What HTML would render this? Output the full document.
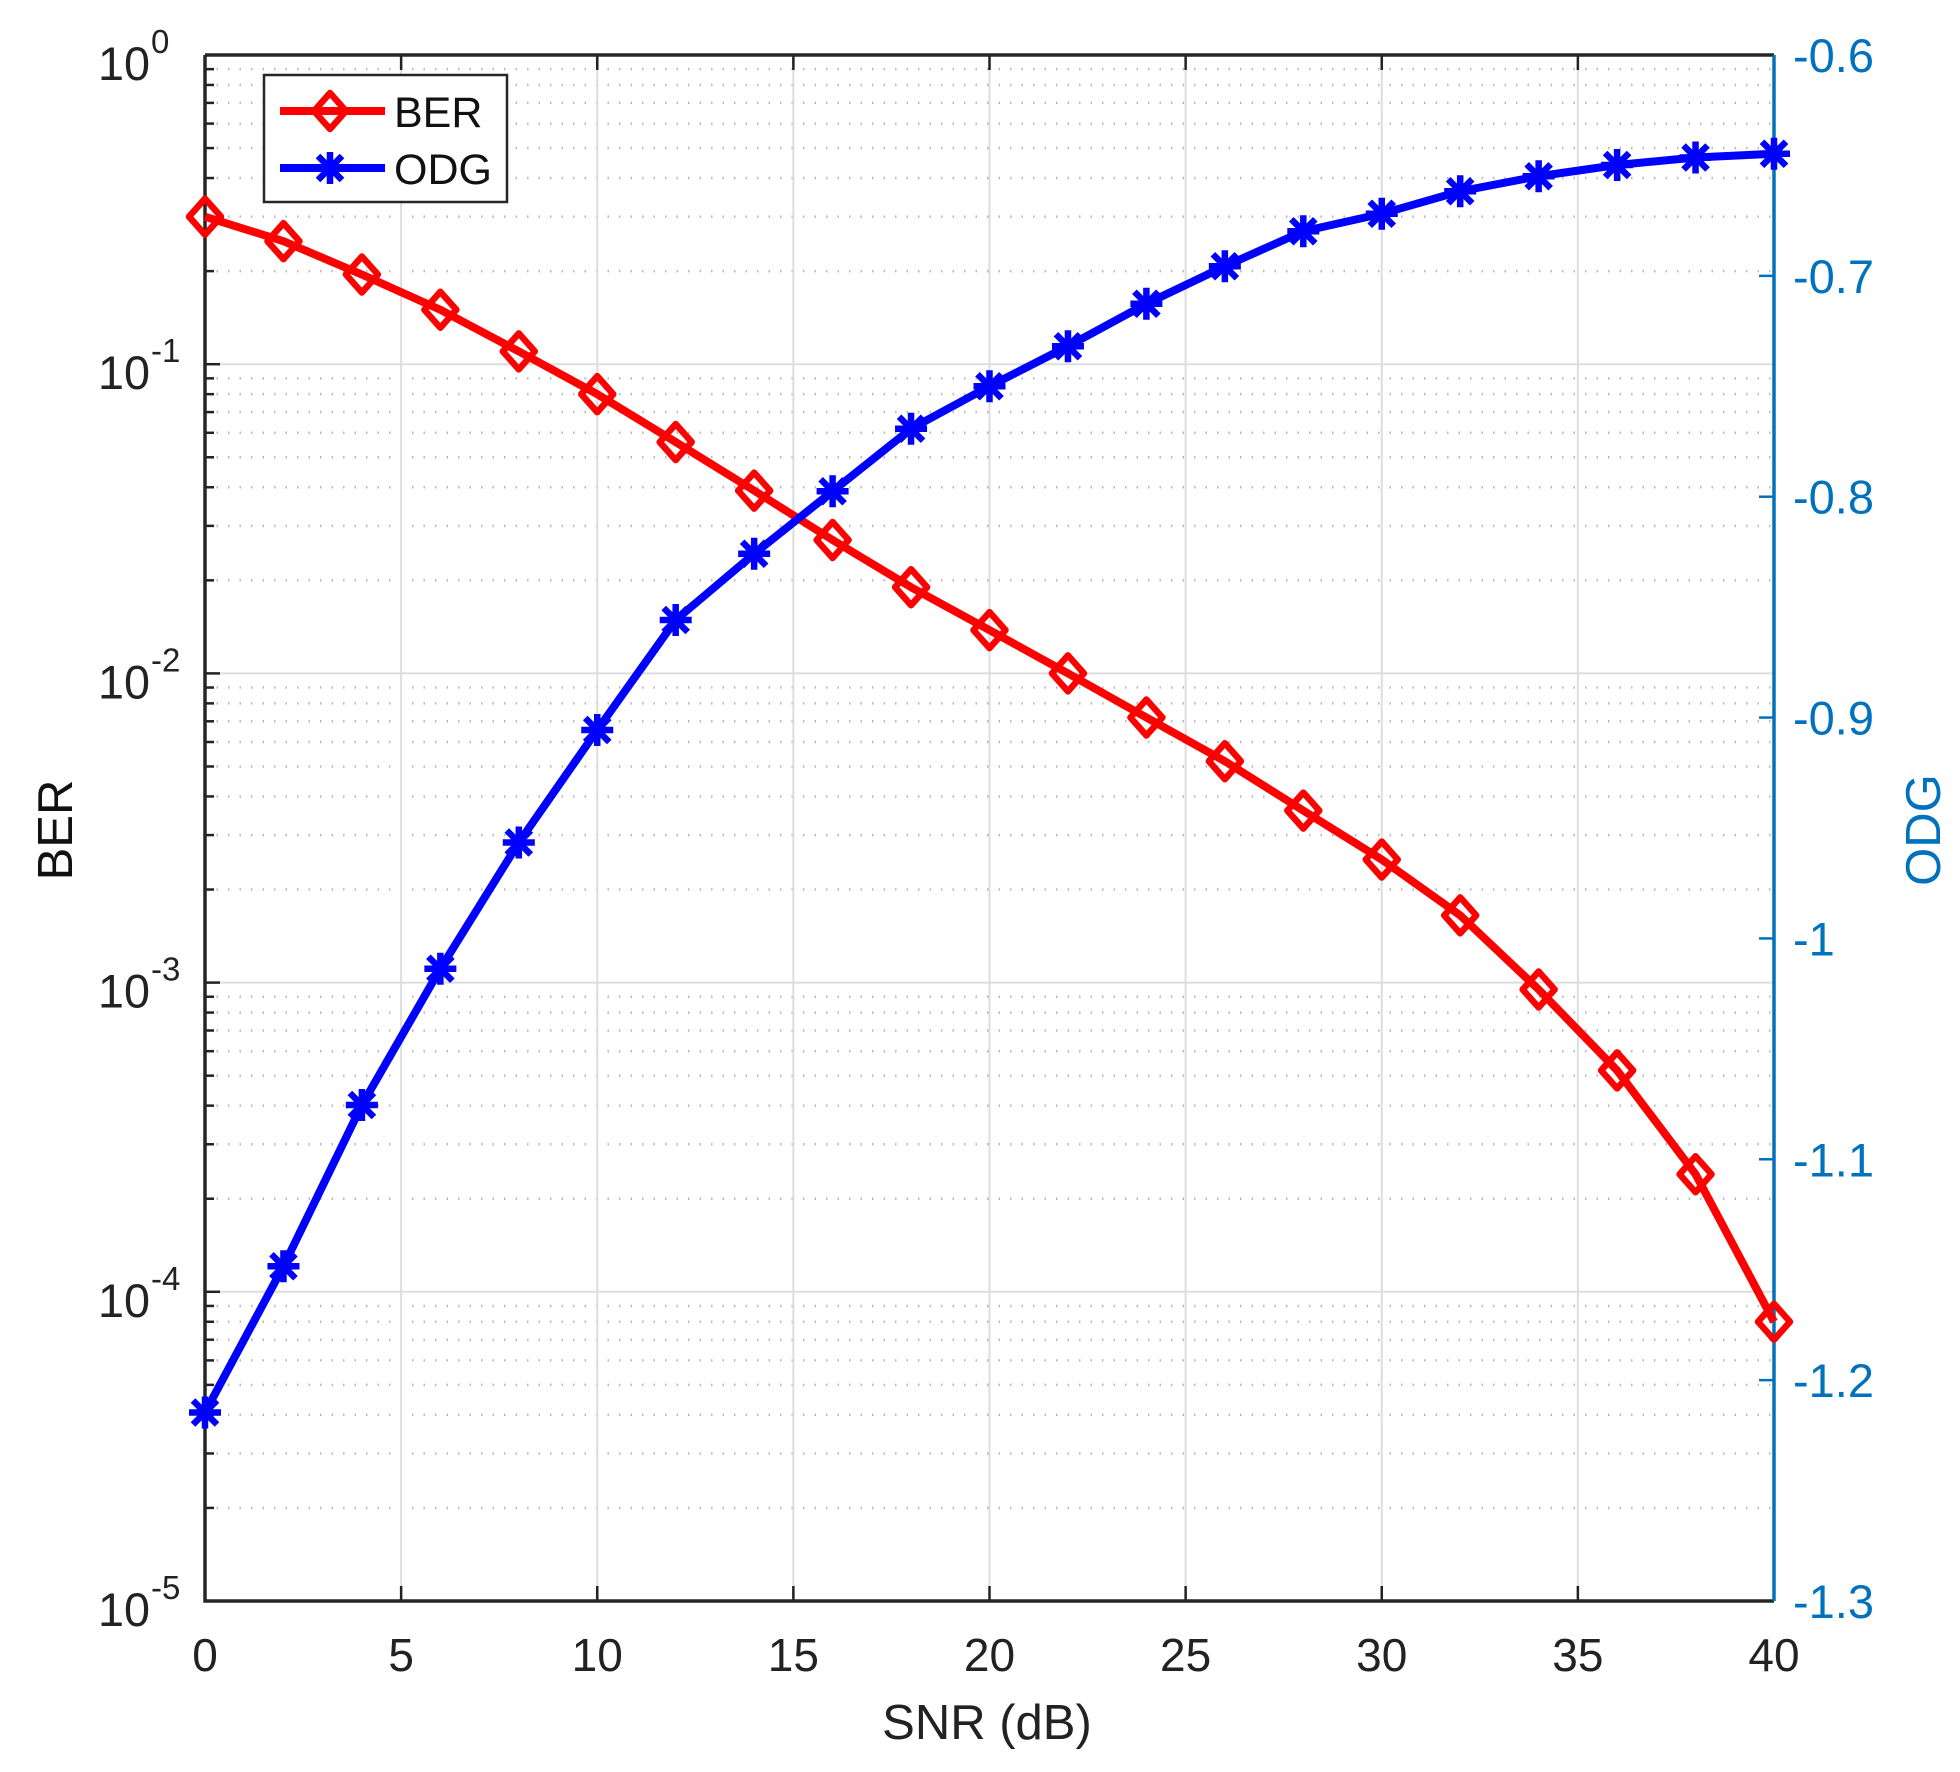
<!DOCTYPE html>
<html><head><meta charset="utf-8"><style>
html,body{margin:0;padding:0;background:#fff}
svg{display:block}
text{font-family:"Liberation Sans",Arial,sans-serif}
</style></head><body>
<svg id="s" width="1960" height="1772" xmlns="http://www.w3.org/2000/svg"></svg>
<script>
const L=205,R=1774,T=55,B=1601,W=R-L,H=B-T;
const X=v=>L+v/40*W;
const YB=v=>T+(-Math.log10(v))/5*H;
const YO=v=>T+(-0.6-v)/0.7*H;
let s='';
for(let d=0;d<5;d++){for(let k=2;k<=9;k++){const y=YB(Math.pow(10,-d-1)*k);
s+=`<line x1="${L}" x2="${R}" y1="${y}" y2="${y}" stroke="#bbb" stroke-width="2.5" stroke-dasharray="1.5 10"/>`;
s+=`<line x1="${L}" x2="${L+9}" y1="${y}" y2="${y}" stroke="#222" stroke-width="2.5"/>`;}}
for(let d=1;d<5;d++){const y=YB(Math.pow(10,-d));s+=`<line x1="${L}" x2="${R}" y1="${y}" y2="${y}" stroke="#ddd" stroke-width="2"/>`;}
for(let v=5;v<40;v+=5){const x=X(v);s+=`<line x1="${x}" x2="${x}" y1="${T}" y2="${B}" stroke="#ddd" stroke-width="2"/>`;
s+=`<line x1="${x}" x2="${x}" y1="${B}" y2="${B-15}" stroke="#222" stroke-width="2.5"/><line x1="${x}" x2="${x}" y1="${T}" y2="${T+15}" stroke="#222" stroke-width="2.5"/>`;}
for(let d=0;d<=5;d++){const y=YB(Math.pow(10,-d));
s+=`<line x1="${L}" x2="${L+15}" y1="${y}" y2="${y}" stroke="#222" stroke-width="2.5"/>`;
s+=`<text x="150" y="${y+25}" font-size="47" fill="#222" text-anchor="end" textLength="52" lengthAdjust="spacingAndGlyphs">10</text><text x="151" y="${y-2}" font-size="33" fill="#222">${d==0?'0':'-'+d}</text>`;}
for(let i=0;i<=7;i++){const v=-0.6-i*0.1,y=YO(v);
s+=`<line x1="${R-15}" x2="${R}" y1="${y}" y2="${y}" stroke="#0072BD" stroke-width="2.5"/>`;
const lab=(i==4)?'-1':v.toFixed(1);
s+=`<text x="1793" y="${y+17}" font-size="47" fill="#0072BD">${lab}</text>`;}
for(let v=0;v<=40;v+=5){s+=`<text x="${X(v)}" y="1671" font-size="46" fill="#222" text-anchor="middle">${v}</text>`;}
s+=`<path d="M${L} ${T}H${R} M${L} ${T}V${B}H${R}" fill="none" stroke="#262626" stroke-width="3.5"/>`;
s+=`<line x1="${R}" x2="${R}" y1="${T}" y2="${B}" stroke="#0072BD" stroke-width="3.5"/>`;
s+=`<text x="987" y="1739" font-size="49" fill="#222" text-anchor="middle">SNR (dB)</text>`;
s+=`<text transform="translate(72,830) rotate(-90)" font-size="49" fill="#111" text-anchor="middle">BER</text>`;
s+=`<text transform="translate(1940,830) rotate(-90)" font-size="49" fill="#0072BD" text-anchor="middle">ODG</text>`;
const ber=[0.3,0.25,0.195,0.15,0.11,0.08,0.056,0.039,0.027,0.019,0.0138,0.0100,0.0072,0.0052,0.0036,0.0025,0.00165,0.00095,0.00052,0.00024,0.00008];
const odgY=[1130,1013,884,775,674,584,496,443,393,343,309,277,243,213,185,171,153,141,132,126,123].map(y=>y*1.25);
const dia=(x,y)=>`<path d="M${x} ${y-18}L${x+16} ${y}L${x} ${y+18}L${x-16} ${y}Z" fill="none" stroke="#f00" stroke-width="6.5" stroke-linejoin="round"/>`;
const ast=(x,y)=>{const r=16;return `<g stroke="#00f" stroke-width="6.5"><line x1="${x-r}" x2="${x+r}" y1="${y}" y2="${y}"/><line x1="${x}" x2="${x}" y1="${y-r}" y2="${y+r}"/><line x1="${x-r*.75}" x2="${x+r*.75}" y1="${y-r*.75}" y2="${y+r*.75}"/><line x1="${x-r*.75}" x2="${x+r*.75}" y1="${y+r*.75}" y2="${y-r*.75}"/></g>`;};
let p1=[],p2=[],m1='',m2='';
for(let i=0;i<21;i++){const x=X(i*2);const y1=YB(ber[i]),y2=odgY[i];p1.push(x+','+y1);p2.push(x+','+y2);m1+=dia(x,y1);m2+=ast(x,y2);}
s+=`<polyline points="${p1.join(' ')}" fill="none" stroke="#f00" stroke-width="8" stroke-linejoin="round"/>`+m1;
s+=`<polyline points="${p2.join(' ')}" fill="none" stroke="#00f" stroke-width="8" stroke-linejoin="round"/>`+m2;
s+=`<rect x="264" y="75" width="243" height="127" fill="#fff" stroke="#262626" stroke-width="2.5"/>`;
s+=`<line x1="280" x2="385" y1="111" y2="111" stroke="#f00" stroke-width="8"/>`+dia(330,111);
s+=`<line x1="280" x2="385" y1="168" y2="168" stroke="#00f" stroke-width="8"/>`+ast(330,168);
s+=`<text x="394" y="127" font-size="43" fill="#111">BER</text><text x="394" y="184" font-size="43" fill="#111">ODG</text>`;
document.getElementById('s').innerHTML=s;
</script>
</body></html>
